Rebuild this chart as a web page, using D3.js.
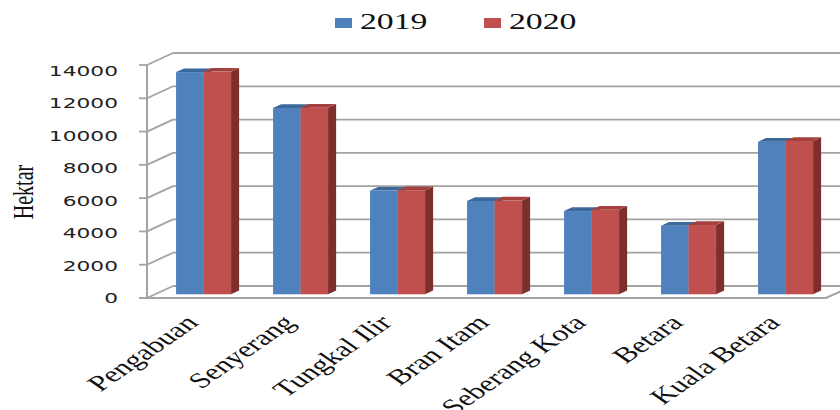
<!DOCTYPE html>
<html>
<head>
<meta charset="utf-8">
<script src="https://cdn.jsdelivr.net/npm/d3@7"></script>
<style>
  body { margin: 0; background: #fff; }
  svg { display: block; }
</style>
</head>
<body>
<div id="chart"></div>
<script>
// Hektar per kecamatan, 2019 vs 2020 (3D clustered column look)
const categories = ['Pengabuan', 'Senyerang', 'Tungkal Ilir', 'Bran Itam', 'Seberang Kota', 'Betara', 'Kuala Betara'];
const series = ['2019', '2020'];
const values2019 = [13350, 11200, 6230, 5610, 5000, 4120, 9170];
const values2020 = [13380, 11210, 6250, 5630, 5080, 4160, 9210];
const yTicks = [0, 2000, 4000, 6000, 8000, 10000, 12000, 14000];

const width = 840, height = 410;
const stretch = 1.5; // text in the picture is drawn wide
const depth = { dx: 26, dy: -12 };
const barDepth = { front: 0.31, back: 0.62 };
const colors = {
    '2019': { front: '#4f81bd', top: '#3d689b', side: '#365d8c' },
    '2020': { front: '#c0504d', top: '#a4403e', side: '#7d2f2d' }
};
const gridColor = '#a3a3a3';

const svg = d3.select('#chart').append('svg')
    .attr('width', width)
    .attr('height', height);

const y = d3.scaleLinear().domain([0, 14000]).range([298, 65]);
// tick labels sit on a slightly tighter spacing than the ticks
const yLabel = d3.scaleLinear().domain([0, 14000]).range([303, 75.5]);
const x = d3.scaleBand().domain(categories).range([147, 826]);
const groupWidth = 55;
const xs = d3.scaleBand().domain(series).range([0, groupWidth]);

function project(px, py, f) {
    return [px + depth.dx * f, py + depth.dy * f];
}

// back wall gridlines + side wall diagonals + tick marks
const grid = svg.append('g');
yTicks.forEach(t => {
    const fy = y(t);
    const back = project(147, fy, 1);
    grid.append('line')
        .attr('x1', back[0]).attr('y1', back[1])
        .attr('x2', width + 20).attr('y2', back[1])
        .attr('stroke', gridColor).attr('stroke-width', 1.8);
    grid.append('line')
        .attr('x1', 147).attr('y1', fy)
        .attr('x2', back[0]).attr('y2', back[1])
        .attr('stroke', gridColor).attr('stroke-width', 1.8);
    grid.append('line')
        .attr('x1', 139).attr('y1', fy)
        .attr('x2', 147).attr('y2', fy)
        .attr('stroke', gridColor).attr('stroke-width', 1.8);
});

// front vertical axis
grid.append('line')
    .attr('x1', 147).attr('y1', y(14000))
    .attr('x2', 147).attr('y2', y(0))
    .attr('stroke', gridColor).attr('stroke-width', 2);

// floor front edge and right edge
const floorRight = x.range()[1];
const floorBack = project(floorRight, y(0), 1);
grid.append('polyline')
    .attr('points', [[139, y(0)], [floorRight, y(0)], floorBack].map(p => p.join(',')).join(' '))
    .attr('fill', 'none')
    .attr('stroke', gridColor).attr('stroke-width', 2);

// bars
const data = categories.map((c, i) => ({
    category: c,
    values: [
        { key: '2019', value: values2019[i] },
        { key: '2020', value: values2020[i] }
    ]
}));

const fdx = depth.dx * barDepth.front, fdy = depth.dy * barDepth.front;
const sdx = depth.dx * (barDepth.back - barDepth.front), sdy = depth.dy * (barDepth.back - barDepth.front);
const bw = xs.bandwidth();

data.forEach(d => {
    const g = svg.append('g');
    const gx = x(d.category) + (x.bandwidth() - groupWidth) / 2;
    d.values.forEach(v => {
        const left = gx + xs(v.key) + fdx;
        const right = left + bw;
        const top = y(v.value) + fdy;
        const base = y(0) + fdy;
        const c = colors[v.key];
        // side face
        g.append('polygon')
            .attr('points', [[right, top], [right + sdx, top + sdy], [right + sdx, base + sdy], [right, base]].map(p => p.join(',')).join(' '))
            .attr('fill', c.side);
        // front face
        g.append('rect')
            .attr('x', left).attr('y', top)
            .attr('width', bw).attr('height', base - top)
            .attr('fill', c.front);
        // top face
        g.append('polygon')
            .attr('points', [[left, top], [right, top], [right + sdx, top + sdy], [left + sdx, top + sdy]].map(p => p.join(',')).join(' '))
            .attr('fill', c.top);
    });
});

// y tick labels
svg.append('g').selectAll('text')
    .data(yTicks)
    .enter()
    .append('text')
    .attr('transform', d => `translate(118,${yLabel(d)}) scale(${stretch},1)`)
    .attr('text-anchor', 'end')
    .attr('font-family', 'DejaVu Sans, Verdana, sans-serif')
    .attr('font-size', '14.5px')
    .attr('fill', '#222')
    .text(d => d);

// y axis title
svg.append('text')
    .attr('transform', `translate(33,192) scale(${stretch},1) rotate(-90)`)
    .attr('text-anchor', 'middle')
    .attr('font-family', 'Liberation Serif, Times New Roman, serif')
    .attr('font-size', '20px')
    .attr('fill', '#111')
    .text('Hektar');

// category labels, rotated 45 degrees
svg.append('g').selectAll('text')
    .data(categories)
    .enter()
    .append('text')
    .attr('transform', d => `translate(${x(d) + x.bandwidth() / 2 + 4},324) scale(1.45,1) rotate(-45)`)
    .attr('text-anchor', 'end')
    .attr('font-family', 'Liberation Serif, Times New Roman, serif')
    .attr('font-size', '22px')
    .attr('fill', '#111')
    .text(d => d);

// legend
const legendX = [335, 484];
const legend = svg.append('g');
series.forEach((s, i) => {
    legend.append('rect')
        .attr('x', legendX[i]).attr('y', 18)
        .attr('width', 17).attr('height', 10)
        .attr('fill', colors[s].front);
    legend.append('text')
        .attr('transform', `translate(${legendX[i] + 25},28.5) scale(${stretch},1)`)
        .attr('font-family', 'Liberation Serif, Times New Roman, serif')
        .attr('font-size', '22.5px')
        .attr('fill', '#111')
        .text(s);
});
</script>
</body>
</html>
